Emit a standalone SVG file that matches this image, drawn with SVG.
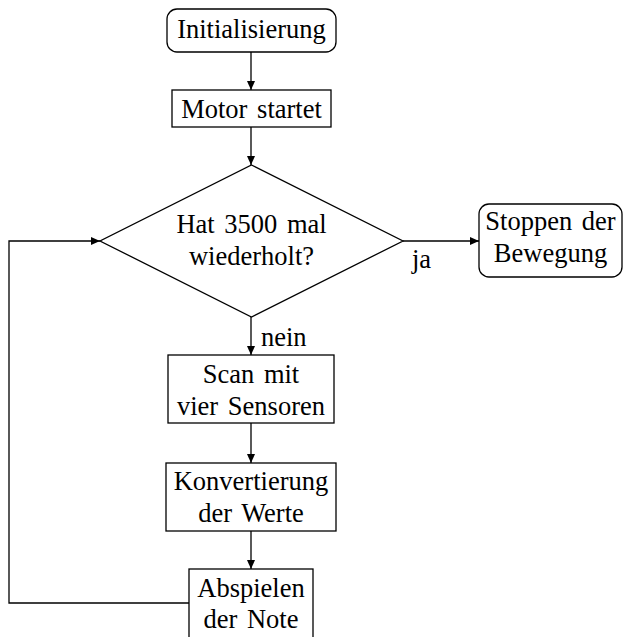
<svg xmlns="http://www.w3.org/2000/svg" width="624" height="637" viewBox="0 0 624 637">
<defs>
<marker id="ah" markerWidth="10" markerHeight="8" refX="9" refY="4" orient="auto" markerUnits="userSpaceOnUse">
<path d="M0,0 L9,4 L0,8 z" fill="#000"/>
</marker>
</defs>
<style>
.n{fill:#fff;stroke:#000;stroke-width:1.3}
.t{font-family:"Liberation Serif","Times New Roman",serif;font-size:26.5px;word-spacing:3px;fill:#000;text-anchor:middle}
.l{font-family:"Liberation Serif","Times New Roman",serif;font-size:26.5px;fill:#000}
.c{fill:none;stroke:#000;stroke-width:1.3;marker-end:url(#ah)}
</style>
<g id="connectors">
<path class="c" d="M251,52 V90"/>
<path class="c" d="M251,127 V165"/>
<path class="c" d="M403,241 H479"/>
<path class="c" d="M251,317 V355"/>
<path class="c" d="M251,423 V463"/>
<path class="c" d="M251,531 V569"/>
<path class="c" d="M189,603 H9 V241 H100"/>
<text class="l" x="412" y="268">ja</text>
<text class="l" x="261" y="346">nein</text>
</g>
<g id="init">
<rect class="n" x="167" y="9" width="169" height="43" rx="10"/>
<text class="t" x="251.5" y="37.5">Initialisierung</text>
</g>
<g id="motor">
<rect class="n" x="172" y="90" width="159" height="37"/>
<text class="t" x="251.5" y="118">Motor startet</text>
</g>
<g id="decision">
<polygon class="n" points="251.5,165 403,241 251.5,317 100,241"/>
<text class="t" x="251.5" y="233">Hat 3500 mal</text>
<text class="t" x="251.5" y="265">wiederholt?</text>
</g>
<g id="stop">
<rect class="n" x="479" y="204" width="143" height="73" rx="10"/>
<text class="t" x="550.5" y="230">Stoppen der</text>
<text class="t" x="550.5" y="262">Bewegung</text>
</g>
<g id="scan">
<rect class="n" x="168" y="355" width="166" height="68"/>
<text class="t" x="251" y="383">Scan mit</text>
<text class="t" x="251" y="415">vier Sensoren</text>
</g>
<g id="konv">
<rect class="n" x="166" y="463" width="170" height="68"/>
<text class="t" x="251" y="490">Konvertierung</text>
<text class="t" x="251" y="522">der Werte</text>
</g>
<g id="play">
<rect class="n" x="189" y="569" width="124" height="75"/>
<text class="t" x="251" y="597">Abspielen</text>
<text class="t" x="251" y="628">der Note</text>
</g>
</svg>
